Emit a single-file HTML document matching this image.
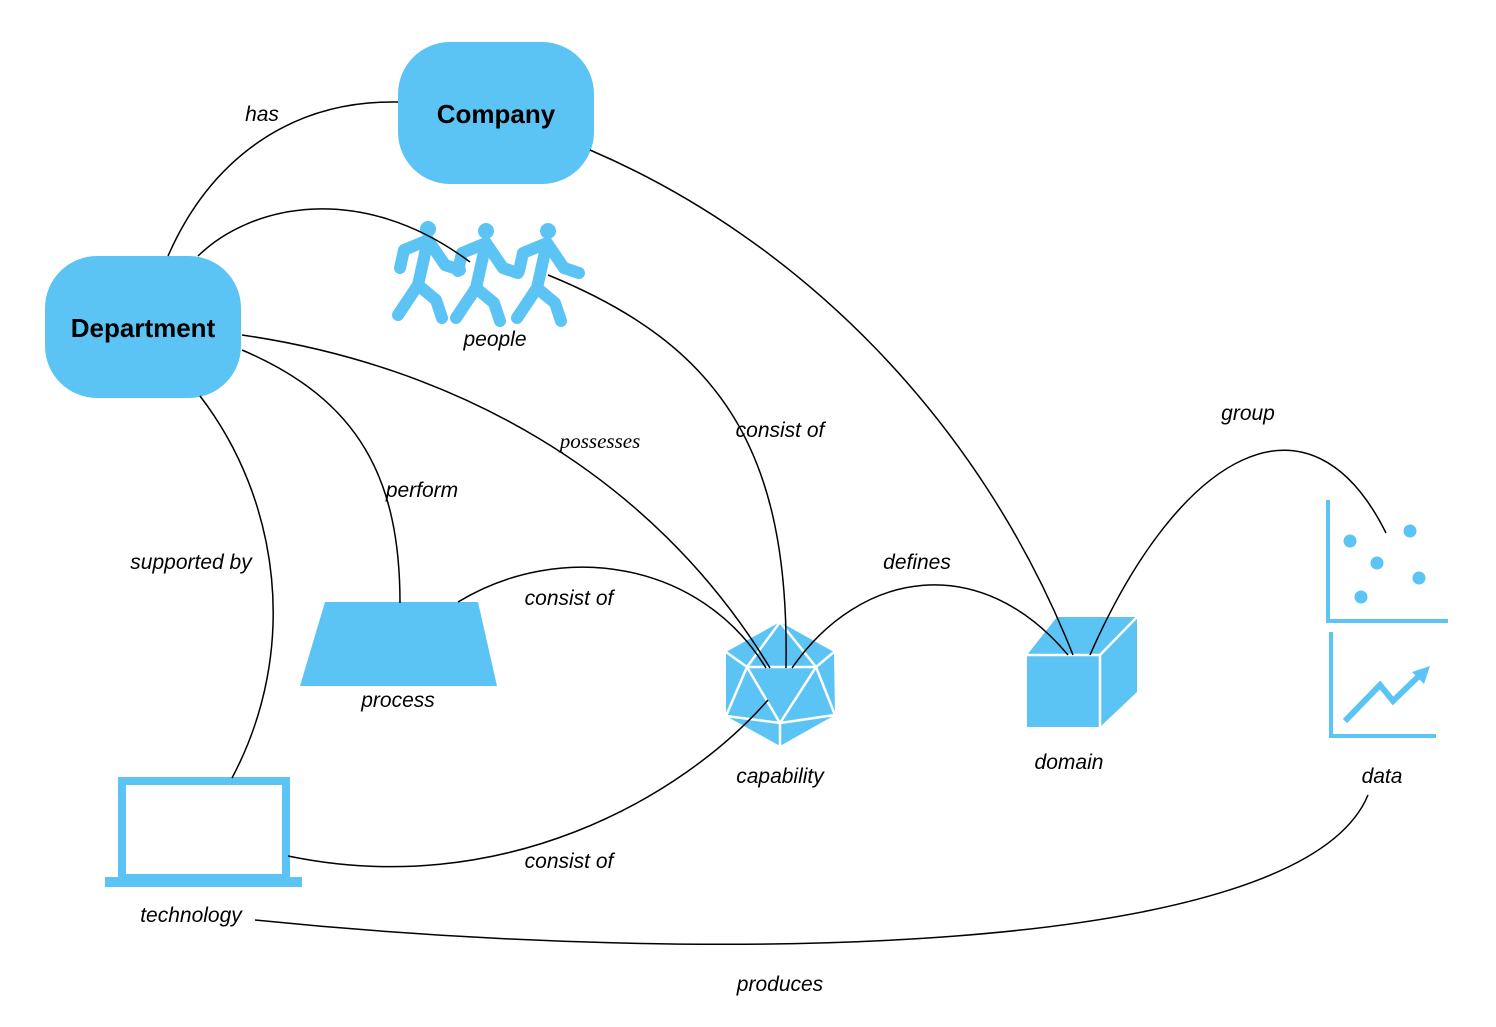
<!DOCTYPE html>
<html><head><meta charset="utf-8"><style>
html,body{margin:0;padding:0;background:#fff}
svg{display:block}
text{font-family:"Liberation Sans",sans-serif;font-size:21px;font-style:italic;fill:#000}
</style></head><body>
<svg width="1496" height="1027" viewBox="0 0 1496 1027">
<g fill="#5bc4f5">
<rect x="398" y="42" width="196" height="142" rx="52"/>
<rect x="45" y="256" width="196" height="142" rx="52"/>
<polygon points="325,602 478,602 497,686 300,686"/>
</g>
<text x="496" y="123" text-anchor="middle" style="font-style:normal;font-weight:bold;font-size:26px">Company</text>
<text x="143" y="337" text-anchor="middle" style="font-style:normal;font-weight:bold;font-size:26px">Department</text>
<g stroke="#5bc4f5" stroke-width="12" stroke-linecap="round" stroke-linejoin="round" fill="none">
<g><path d="M400,268 L404,250 L428,240 L445,265 L460,270"/><path d="M428,240 L418,285 L398,315"/><path d="M418,285 L436,300 L442,318"/></g>
<g transform="translate(58,3)"><path d="M400,268 L404,250 L428,240 L445,265 L460,270"/><path d="M428,240 L418,285 L398,315"/><path d="M418,285 L436,300 L442,318"/></g>
<g transform="translate(119,3)"><path d="M400,268 L404,250 L428,240 L445,265 L460,270"/><path d="M428,240 L418,285 L398,315"/><path d="M418,285 L436,300 L442,318"/></g>
</g>
<g fill="#5bc4f5"><circle cx="428" cy="229" r="8"/><circle cx="486" cy="231" r="8"/><circle cx="548" cy="231" r="8"/></g>
<polygon points="780,622 834,652 835,715 780,746 726,716 726,652" fill="#5bc4f5"/>
<g stroke="#fff" stroke-width="2.5" fill="none">
<polygon points="747,667 816,667 780,723"/>
<path d="M780,622 L747,667 M780,622 L816,667 M726,652 L747,667 M834,652 L816,667 M747,667 L726,716 M816,667 L835,715 M726,716 L780,723 M835,715 L780,723 M780,723 L780,746"/>
</g>
<polygon points="1027,655 1057,617 1137,617 1137,692 1100,727 1027,727" fill="#5bc4f5"/>
<path d="M1027,655 L1100,655 L1137,617 M1100,655 L1100,727" stroke="#fff" stroke-width="2.5" fill="none"/>
<rect x="122" y="781" width="164" height="97" fill="none" stroke="#5bc4f5" stroke-width="8"/>
<rect x="105" y="877" width="197" height="10" fill="#5bc4f5"/>
<g stroke="#5bc4f5" stroke-width="4" fill="none">
<path d="M1328,500 L1328,621 L1448,621"/>
<path d="M1331,632 L1331,736 L1436,736"/>
<path d="M1345,721 L1380,685 L1393,701 L1422,673" stroke-width="6"/>
</g>
<polygon points="1430,666 1412,672 1424,684" fill="#5bc4f5"/>
<g fill="#5bc4f5"><circle cx="1350" cy="541" r="6.5"/><circle cx="1377" cy="563" r="6.5"/><circle cx="1410" cy="531" r="6.5"/><circle cx="1419" cy="578" r="6.5"/><circle cx="1361" cy="597" r="6.5"/></g>
<g stroke="#000" stroke-width="1.5" fill="none">
<path d="M168,256 C210,160 290,100 398,102"/>
<path d="M198,256 C250,205 360,180 470,262"/>
<path d="M548,275 C720,345 790,450 786,668"/>
<path d="M590,150 C800,240 980,420 1073,655"/>
<path d="M242,335 C450,365 650,470 770,668"/>
<path d="M242,350 C360,400 400,480 400,603"/>
<path d="M458,602 C560,540 700,560 766,668"/>
<path d="M792,668 C860,570 980,550 1068,655"/>
<path d="M1090,655 C1180,450 1310,380 1386,533"/>
<path d="M200,396 C280,500 300,650 232,778"/>
<path d="M288,856 C500,900 680,800 768,700"/>
<path d="M255,920 C700,965 1300,960 1368,795"/>
</g>
<text x="495" y="346" text-anchor="middle">people</text>
<text x="398" y="707" text-anchor="middle">process</text>
<text x="780" y="783" text-anchor="middle">capability</text>
<text x="1069" y="769" text-anchor="middle">domain</text>
<text x="1382" y="783" text-anchor="middle">data</text>
<text x="191" y="922" text-anchor="middle">technology</text>
<text x="262" y="121" text-anchor="middle">has</text>
<text x="600" y="448" text-anchor="middle" style="font-family:'Liberation Serif',serif">possesses</text>
<text x="780" y="437" text-anchor="middle">consist of</text>
<text x="422" y="497" text-anchor="middle">perform</text>
<text x="191" y="569" text-anchor="middle">supported by</text>
<text x="569" y="605" text-anchor="middle">consist of</text>
<text x="917" y="569" text-anchor="middle">defines</text>
<text x="1248" y="420" text-anchor="middle">group</text>
<text x="569" y="868" text-anchor="middle">consist of</text>
<text x="780" y="991" text-anchor="middle">produces</text>
</svg>
</body></html>
